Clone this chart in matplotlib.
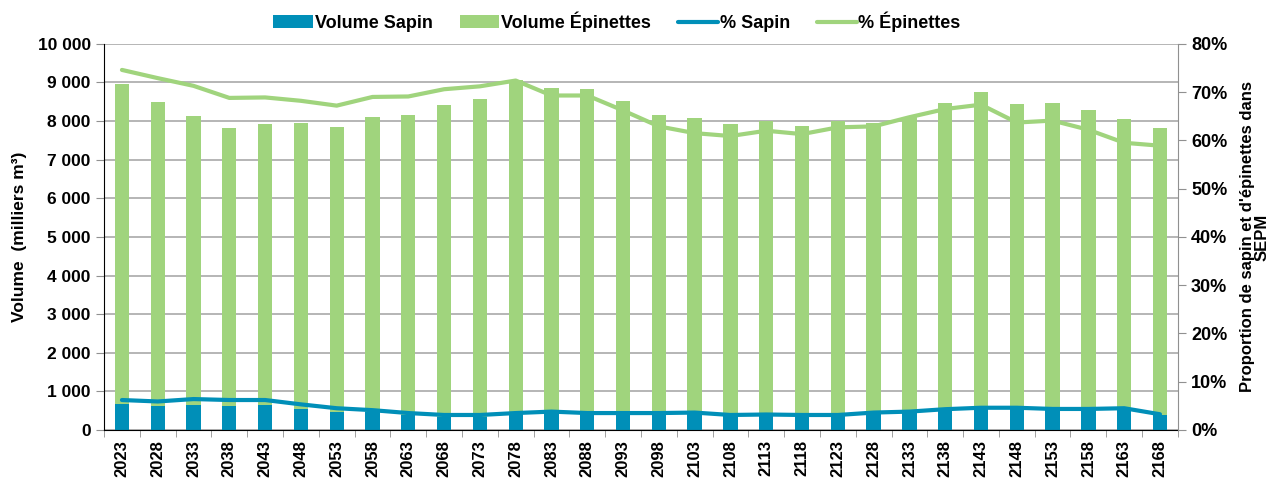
import matplotlib.pyplot as plt
from matplotlib.ticker import FuncFormatter, PercentFormatter
import numpy as np

plt.rcParams['font.family'] = ['Liberation Sans', 'DejaVu Sans']
plt.rcParams['font.weight'] = 'bold'

BLUE = "#008fb8"
GREEN = "#a0d47d"

years = [2023, 2028, 2033, 2038, 2043, 2048, 2053, 2058, 2063, 2068,
         2073, 2078, 2083, 2088, 2093, 2098, 2103, 2108, 2113, 2118,
         2123, 2128, 2133, 2138, 2143, 2148, 2153, 2158, 2163, 2168]

# total heights (sapin + epinettes), milliers m3
vol_total = [8960, 8490, 8135, 7825, 7935, 7955, 7850, 8100, 8150, 8420,
             8565, 9065, 8845, 8835, 8525, 8160, 8090, 7925, 7995, 7865,
             7990, 7945, 8100, 8470, 8755, 8445, 8480, 8290, 8050, 7815]
vol_sapin = [675, 630, 648, 630, 648, 555, 475, 460, 390, 345,
             345, 430, 475, 430, 430, 430, 450, 390, 405, 390,
             390, 430, 480, 560, 605, 605, 560, 560, 575, 390]
vol_epinettes = [t - s for t, s in zip(vol_total, vol_sapin)]

pct_sapin = [6.2, 5.9, 6.4, 6.2, 6.2, 5.3, 4.5, 4.1, 3.5, 3.1,
             3.1, 3.5, 3.8, 3.5, 3.5, 3.5, 3.6, 3.1, 3.2, 3.1,
             3.1, 3.6, 3.8, 4.3, 4.6, 4.6, 4.35, 4.35, 4.5, 3.25]
pct_epinettes = [74.6, 72.9, 71.3, 68.8, 68.9, 68.2, 67.2, 69.0, 69.1, 70.6,
                 71.2, 72.4, 69.3, 69.3, 66.2, 62.9, 61.5, 60.9, 62.0, 61.3,
                 62.7, 62.9, 64.8, 66.5, 67.4, 63.7, 64.1, 62.2, 59.5, 58.9]

x = np.arange(len(years))

fig = plt.figure(figsize=(12.72, 4.82), dpi=100)
ax = fig.add_axes([0.0818, 0.108, 0.8442, 0.801])
ax2 = ax.twinx()

ax.bar(x, vol_sapin, width=0.4, color=BLUE, label="Volume Sapin", zorder=2)
ax.bar(x, vol_epinettes, width=0.4, bottom=vol_sapin, color=GREEN,
       label="Volume Épinettes", zorder=2)
ax.set_axisbelow(True)
ax.yaxis.grid(True, color="#b0b0b0", linewidth=1.3, zorder=0)

ax2.plot(x, pct_sapin, color=BLUE, lw=3, label="% Sapin", solid_capstyle='round')
ax2.plot(x, pct_epinettes, color=GREEN, lw=3, label="% Épinettes", solid_capstyle='round')

ax.set_xlim(-0.5, len(years) - 0.5)
ax.set_ylim(0, 10000)
ax.set_yticks(np.arange(0, 10001, 1000))
ax.yaxis.set_major_formatter(FuncFormatter(lambda v, p: f"{int(v):,}".replace(",", " ")))
ax2.set_ylim(0, 80)
ax2.set_yticks(np.arange(0, 81, 10))
ax2.yaxis.set_major_formatter(PercentFormatter(decimals=0))

ax.set_xticks(x)
ax.set_xticklabels([str(y) for y in years], rotation=90, fontsize=12, fontweight='bold')
ax.set_xticks(np.arange(-0.5, len(years), 1), minor=True)
ax.tick_params(axis='x', which='major', length=0, pad=7)
ax.tick_params(axis='x', which='minor', length=5, color="#909090")
ax.tick_params(axis='y', labelsize=12.5, length=6, color="#909090")
ax2.tick_params(axis='y', labelsize=13, length=6, color="#909090")

ax.spines['top'].set_visible(False)
ax2.spines['top'].set_visible(False)
ax2.spines['left'].set_visible(False)
ax2.spines['bottom'].set_visible(False)
ax.spines['right'].set_visible(False)
ax2.spines['right'].set_color("#909090")
ax.spines['left'].set_color("black")
ax.spines['bottom'].set_color("black")

ax.set_ylabel("Volume  (milliers m³)", fontsize=12.5, fontweight='bold', labelpad=8)
ax2.set_ylabel("Proportion de sapin et d'épinettes dans\nSEPM", fontsize=12,
               fontweight='bold', labelpad=9, rotation=90, linespacing=1.0)

h1, l1 = ax.get_legend_handles_labels()
h2, l2 = ax2.get_legend_handles_labels()
fig.legend(h1 + h2, l1 + l2, loc='center', bbox_to_anchor=(0.485, 0.955), ncol=4,
           frameon=False, handlelength=2.2, columnspacing=1.5,
           handletextpad=0.1, prop={'weight': 'bold', 'size': 13})

fig.savefig("out.png", dpi=100)
